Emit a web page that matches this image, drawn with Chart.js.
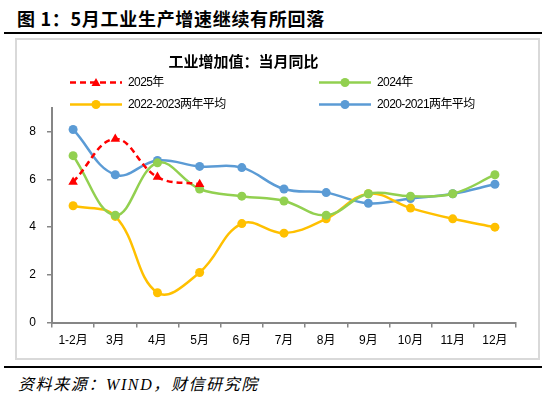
<!DOCTYPE html>
<html>
<head>
<meta charset="utf-8">
<script src="https://cdn.jsdelivr.net/npm/chart.js@4"></script>
<style>
  html, body { margin: 0; padding: 0; background: #fff; }
  body { width: 550px; height: 394px; position: relative; overflow: hidden; }
  #title {
    position: absolute; left: 17px; top: 5px; letter-spacing: 0.7px;
    font: bold 18px "Noto Sans CJK SC", sans-serif; color: #000; white-space: nowrap;
  }
  .rule { position: absolute; left: 4px; width: 538px; height: 2px; background: #000; }
  #box {
    position: absolute; left: 15px; top: 38px; width: 525px; height: 322px;
    box-sizing: border-box; border: 2px solid #d9d9d9;
  }
  #source {
    position: absolute; left: 18px; top: 371px; letter-spacing: 1.6px;
    font: italic 16px "Liberation Serif", "Noto Sans CJK SC", serif; color: #000; white-space: nowrap;
  }
</style>
</head>
<body>
<div id="title">图 1：5月工业生产增速继续有所回落</div>
<div class="rule" style="top:32px"></div>
<div id="box"><canvas id="chart" width="521" height="318"></canvas></div>
<div class="rule" style="top:366px"></div>
<div id="source">资料来源：WIND，财信研究院</div>

<script>
// Chart data
const months = ['1-2月', '3月', '4月', '5月', '6月', '7月', '8月', '9月', '10月', '11月', '12月'];
const yoy2025 = [5.9, 7.7, 6.1, 5.8];
const yoy2024 = [7.0, 4.5, 6.7, 5.6, 5.3, 5.1, 4.5, 5.4, 5.3, 5.4, 6.2];
const avg2022_2023 = [4.9, 4.45, 1.25, 2.1, 4.15, 3.75, 4.35, 5.4, 4.8, 4.35, 4.0];
const avg2020_2021 = [8.1, 6.2, 6.8, 6.55, 6.5, 5.6, 5.45, 5.0, 5.2, 5.4, 5.8];
const yTicks = [0, 2, 4, 6, 8];

const chartTitle = '工业增加值：当月同比';
const CJK = '"Liberation Sans", "Noto Sans CJK SC", sans-serif';

function makeSeries(label, data, color, extra) {
    return Object.assign({
        label,
        data,
        borderColor: color,
        backgroundColor: color,
        borderWidth: 2.5,
        pointRadius: 4.5,
        pointHoverRadius: 4.5,
        pointBorderWidth: 0,
        tension: 0.4,
        fill: false
    }, extra || {});
}

// Two-column legend plus chart title, drawn on the canvas
const legendGrid = {
    id: 'legendGrid',
    afterDraw(chart) {
        const ctx = chart.ctx;
        ctx.save();
        ctx.fillStyle = '#000';
        ctx.font = 'bold 15px "Noto Sans CJK SC", sans-serif';
        ctx.textAlign = 'center';
        ctx.textBaseline = 'middle';
        ctx.fillText(chartTitle, 226.5, 21);

        const cols = [53, 302];
        const rows = [42.5, 64.5];
        chart.data.datasets.forEach((ds, i) => {
            const x = cols[i % 2];
            const y = rows[Math.floor(i / 2)];
            ctx.strokeStyle = ds.borderColor;
            ctx.fillStyle = ds.borderColor;
            ctx.lineWidth = 2.5;
            ctx.setLineDash(ds.borderDash || []);
            ctx.beginPath();
            ctx.moveTo(x, y);
            ctx.lineTo(x + 52, y);
            ctx.stroke();
            ctx.setLineDash([]);
            const cx = x + 26;
            ctx.beginPath();
            if (ds.pointStyle === 'triangle') {
                ctx.moveTo(cx, y - 4.5);
                ctx.lineTo(cx + 4.5, y + 3.5);
                ctx.lineTo(cx - 4.5, y + 3.5);
                ctx.closePath();
            } else {
                ctx.arc(cx, y, 4.5, 0, Math.PI * 2);
            }
            ctx.fill();

            ctx.fillStyle = '#000';
            ctx.font = '12px ' + CJK;
            ctx.letterSpacing = '-0.6px';
            ctx.textAlign = 'left';
            ctx.fillText(ds.label, x + 58, y + 0.5);
            ctx.letterSpacing = '0px';
        });
        ctx.restore();
    }
};

new Chart(document.getElementById('chart'), {
    type: 'line',
    data: {
        labels: months,
        datasets: [
            makeSeries('2025年', yoy2025, '#ff0000', { borderDash: [6, 4], pointStyle: 'triangle', pointRadius: 5.5 }),
            makeSeries('2024年', yoy2024, '#92d050'),
            makeSeries('2022-2023两年平均', avg2022_2023, '#ffc000'),
            makeSeries('2020-2021两年平均', avg2020_2021, '#5b9bd5')
        ]
    },
    options: {
        responsive: false,
        animation: false,
        layout: { padding: { left: 0, right: 22, top: 68, bottom: 0 } },
        plugins: {
            legend: { display: false },
            title: { display: false },
            tooltip: { enabled: false }
        },
        scales: {
            x: {
                offset: true,
                grid: { display: true, drawOnChartArea: false, offset: true, color: '#868686', lineWidth: 1.5, tickLength: 5 },
                border: { display: true, color: '#868686', width: 2 },
                ticks: { color: '#000', font: { size: 12, family: CJK }, padding: 6, maxRotation: 0, autoSkip: false },
                afterFit(scale) { scale.height = 35.5; }
            },
            y: {
                min: 0,
                max: 9,
                grid: { display: true, drawOnChartArea: false, color: '#868686', lineWidth: 1.5, tickLength: 5 },
                border: { display: true, color: '#868686', width: 2 },
                ticks: { stepSize: 2, color: '#000', font: { size: 12, family: CJK }, padding: 11 },
                afterBuildTicks(scale) {
                    scale.ticks = yTicks.map(v => ({ value: v }));
                },
                afterFit(scale) { scale.width = 35; }
            }
        }
    },
    plugins: [legendGrid]
});
</script>
</body>
</html>
